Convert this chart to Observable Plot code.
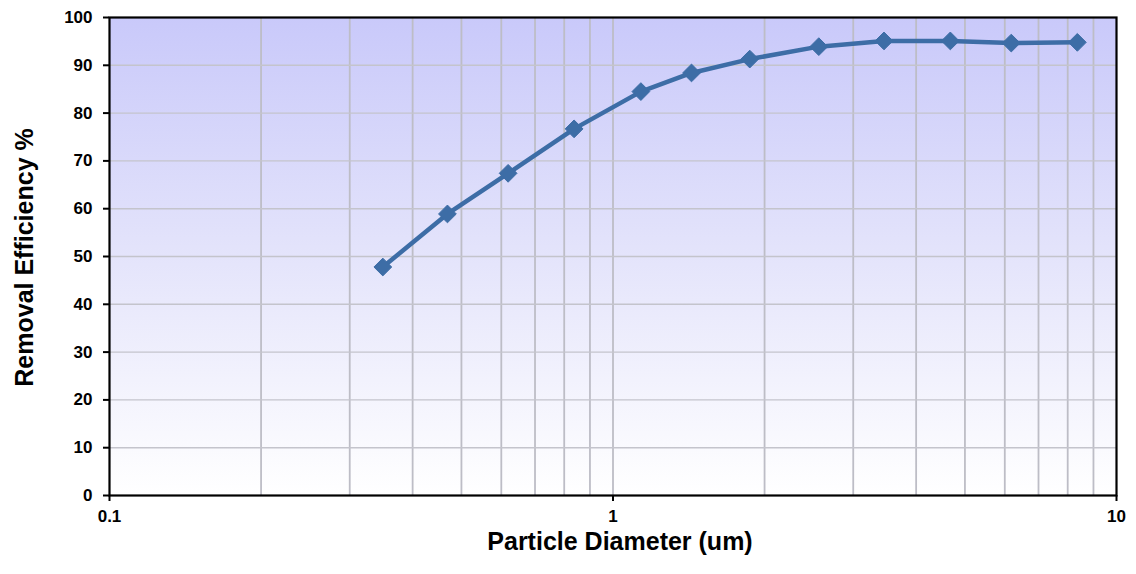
<!DOCTYPE html>
<html>
<head>
<meta charset="utf-8">
<script src="https://cdn.jsdelivr.net/npm/d3@7"></script>
<script src="https://cdn.jsdelivr.net/npm/@observablehq/plot@0.6"></script>
<style>
  html, body { margin: 0; padding: 0; background: #ffffff; }
  #chart { width: 1136px; height: 574px; }
  svg { font-family: "Liberation Sans", Arial, sans-serif; }
</style>
</head>
<body>
<div id="chart"></div>
<script>
// Data
const diameters  = [0.349, 0.469, 0.619, 0.837, 1.136, 1.432, 1.869, 2.563, 3.453, 4.677, 6.18, 8.36];
const efficiency = [47.8, 58.9, 67.4, 76.7, 84.5, 88.4, 91.3, 93.9, 95.1, 95.1, 94.65, 94.8];
const xTicks = [0.1, 1, 10];
const xGrid = [0.2, 0.3, 0.4, 0.5, 0.6, 0.7, 0.8, 0.9, 1, 2, 3, 4, 5, 6, 7, 8, 9];
const yTicks = [0, 10, 20, 30, 40, 50, 60, 70, 80, 90, 100];
const yGrid = [10, 20, 30, 40, 50, 60, 70, 80, 90];
const xTitle = "Particle Diameter (um)";
const yTitle = "Removal Efficiency %";

const data = diameters.map((d, i) => ({d, e: efficiency[i]}));

// gradient definition for plot background
const defs = () => {
  const g = d3.create("svg:defs");
  const lg = g.append("linearGradient")
    .attr("id", "bgGrad").attr("x1", 0).attr("y1", 0).attr("x2", 0).attr("y2", 1);
  lg.append("stop").attr("offset", "0%").attr("stop-color", "#c9c9fa");
  lg.append("stop").attr("offset", "50%").attr("stop-color", "#e4e4fb");
  lg.append("stop").attr("offset", "100%").attr("stop-color", "#ffffff");
  return g.node();
};

const chart = Plot.plot({
  width: 1136,
  height: 574,
  marginLeft: 109,
  marginTop: 17,
  marginRight: 20,
  marginBottom: 79,
  style: {fontFamily: "'Liberation Sans', Arial, sans-serif", background: "#ffffff", color: "#000"},
  x: {type: "log", domain: [0.1, 10]},
  y: {domain: [0, 100]},
  marks: [
    defs,
    Plot.rect([{x1: 0.1, x2: 10, y1: 0, y2: 100}], {x1: "x1", x2: "x2", y1: "y1", y2: "y2", fill: "url(#bgGrad)"}),
    Plot.ruleX(xGrid, {stroke: "#bdbdc6", strokeWidth: 1.8}),
    Plot.ruleY(yGrid, {stroke: "#c4c4cc", strokeWidth: 1.4}),
    Plot.frame({stroke: "#000", strokeWidth: 2.2}),
    Plot.axisX(xTicks, {tickSize: 6, tickPadding: 8, tickFormat: d => String(d), fontSize: 17, fontWeight: "bold", strokeWidth: 2, label: null}),
    Plot.axisY(yTicks, {tickSize: 6, tickPadding: 11, fontSize: 17, fontWeight: "bold", strokeWidth: 2, label: null}),
    Plot.line(data, {x: "d", y: "e", stroke: "#3d6da6", strokeWidth: 4.5}),
    Plot.dot(data, {x: "d", y: "e", symbol: "diamond2", r: 8, fill: "#3d6da6", stroke: "#3d6da6", strokeWidth: 1}),
    Plot.text([xTitle], {text: d => d, frameAnchor: "bottom", textAnchor: "middle", dx: 7, dy: 54, fontSize: 25, fontWeight: "bold", fill: "#000"}),
    Plot.text([yTitle], {text: d => d, frameAnchor: "left", textAnchor: "middle", rotate: -90, dx: -85, dy: 1, fontSize: 25, fontWeight: "bold", fill: "#000"})
  ]
});

document.getElementById("chart").appendChild(chart);
</script>
</body>
</html>
